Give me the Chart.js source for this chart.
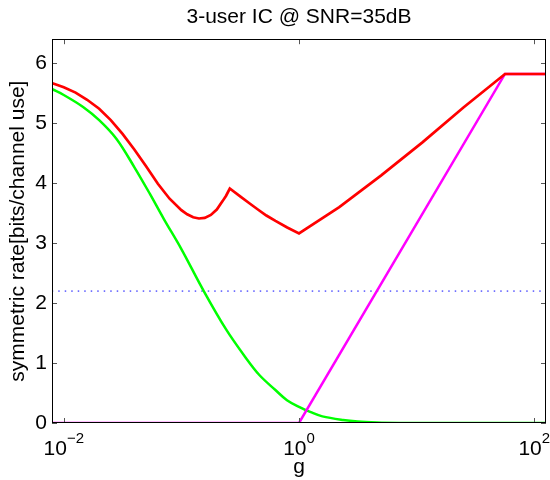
<!DOCTYPE html>
<html>
<head>
<meta charset="utf-8">
<script src="https://cdn.jsdelivr.net/npm/chart.js@4/dist/chart.umd.min.js"></script>
<style>
  body { margin: 0; background: #fff; }
  canvas { display: block; }
</style>
</head>
<body>
<canvas id="myChart" width="550" height="480"></canvas>
<script>
// axis ticks
const xTicks = [0.01, 1, 100];
const yTicks = [0, 1, 2, 3, 4, 5, 6];

// red curve (g, rate)
const gRed    = [0.0079, 0.01, 0.0126, 0.0158, 0.02, 0.0251, 0.0316, 0.0398, 0.0501, 0.0631, 0.0794, 0.1, 0.112, 0.126, 0.141, 0.158, 0.178, 0.2, 0.224, 0.24, 0.258, 0.316, 0.381, 0.447, 0.528, 0.631, 0.794, 1, 2.2, 5, 11.2, 25, 56.4, 126];
const rateRed = [5.67, 5.60, 5.51, 5.39, 5.24, 5.05, 4.82, 4.56, 4.28, 3.99, 3.74, 3.55, 3.48, 3.43, 3.41, 3.42, 3.47, 3.56, 3.70, 3.79, 3.91, 3.78, 3.66, 3.56, 3.46, 3.37, 3.26, 3.16, 3.60, 4.13, 4.68, 5.26, 5.82, 5.82];

// green curve
const gGreen    = [0.0079, 0.01, 0.0146, 0.02, 0.028, 0.04, 0.054, 0.071, 0.1, 0.153, 0.24, 0.355, 0.46, 0.63, 0.79, 1, 1.26, 1.58, 2.37, 3.16, 4.6, 7.1, 10, 126];
const rateGreen = [5.57, 5.47, 5.27, 5.05, 4.74, 4.26, 3.82, 3.40, 2.90, 2.22, 1.56, 1.08, 0.80, 0.55, 0.38, 0.27, 0.18, 0.11, 0.05, 0.025, 0.01, 0.002, 0, 0];

// magenta curve
const gMagenta    = [0.0079, 1, 56.4, 126];
const rateMagenta = [0, 0, 5.82, 5.82];

// blue dotted level and black zero line
const gFlat = [0.0079, 126];
const rateBlue = [2.2, 2.2];
const rateBlack = [0, 0];

const toPoints = (gs, vs) => gs.map((g, i) => ({ x: g, y: vs[i] }));

Chart.defaults.font.family = '"Liberation Sans", Arial, sans-serif';
Chart.defaults.color = '#000';

// MATLAB style box, inside tick marks and 10^n labels
const matlabAxes = {
    id: 'matlabAxes',
    afterDatasetsDraw(chart) {
        const { ctx, chartArea: a, scales: { x, y } } = chart;
        ctx.save();
        ctx.lineWidth = 1;
        ctx.strokeStyle = '#555';
        ctx.beginPath();
        xTicks.forEach(v => {
            const px = Math.round(x.getPixelForValue(v)) + 0.5;
            ctx.moveTo(px, a.bottom); ctx.lineTo(px, a.bottom - 5);
            ctx.moveTo(px, a.top); ctx.lineTo(px, a.top + 5);
        });
        yTicks.forEach(v => {
            const py = Math.round(y.getPixelForValue(v)) + 0.5;
            ctx.moveTo(a.left, py); ctx.lineTo(a.left + 5, py);
            ctx.moveTo(a.right, py); ctx.lineTo(a.right - 5, py);
        });
        ctx.stroke();

        ctx.strokeStyle = '#000';
        ctx.strokeRect(Math.round(a.left) + 0.5, Math.round(a.top) + 0.5,
            Math.round(a.right - a.left) - 1, Math.round(a.bottom - a.top) - 1);

        // x tick labels with superscript exponent
        ctx.fillStyle = '#000';
        ctx.textBaseline = 'alphabetic';
        ctx.textAlign = 'left';
        const baseFont = '21px "Liberation Sans", Arial, sans-serif';
        const supFont = '15px "Liberation Sans", Arial, sans-serif';
        xTicks.forEach(v => {
            const px = x.getPixelForValue(v);
            const e = Math.round(Math.log10(v));
            const sup = e < 0 ? '\u2212' + Math.abs(e) : String(e);
            ctx.font = baseFont;
            const wb = ctx.measureText('10').width;
            ctx.font = supFont;
            const ws = ctx.measureText(sup).width;
            const x0 = px - (wb + ws) / 2;
            ctx.font = baseFont;
            ctx.fillText('10', x0, a.bottom + 32);
            ctx.font = supFont;
            ctx.fillText(sup, x0 + wb, a.bottom + 20);
        });
        ctx.restore();
    }
};

const ctx = document.getElementById('myChart').getContext('2d');
new Chart(ctx, {
    type: 'line',
    data: {
        datasets: [
            { data: toPoints(gRed, rateRed), borderColor: '#ff0000', borderWidth: 2.7 },
            { data: toPoints(gMagenta, rateMagenta), borderColor: '#ff00ff', borderWidth: 2.5 },
            { data: toPoints(gGreen, rateGreen), borderColor: '#00ff00', borderWidth: 2.5, tension: 0.35 },
            { data: toPoints(gFlat, rateBlue), borderColor: '#0000ff', borderWidth: 1, borderDash: [1.5, 5] },
            { data: toPoints(gFlat, rateBlack), borderColor: '#000000', borderWidth: 2 }
        ]
    },
    options: {
        responsive: false,
        animation: false,
        devicePixelRatio: 1,
        elements: { point: { radius: 0 }, line: { tension: 0, fill: false } },
        layout: { padding: { left: 0, right: 4, top: 0, bottom: 0 } },
        plugins: {
            legend: { display: false },
            tooltip: { enabled: false },
            title: {
                display: true,
                text: '3-user IC @ SNR=35dB',
                fullSize: false,
                color: '#000',
                font: { size: 21, weight: 'normal' },
                padding: { top: 5, bottom: 9 }
            }
        },
        scales: {
            x: {
                type: 'logarithmic',
                min: Math.pow(10, -2.1),
                max: Math.pow(10, 2.1),
                afterBuildTicks: s => { s.ticks = xTicks.map(v => ({ value: v })); },
                afterFit: s => { s.height = 57; },
                ticks: { display: false },
                grid: { display: false, drawTicks: false },
                border: { display: false },
                title: { display: true, text: 'g', color: '#000', font: { size: 21 }, padding: { top: 0, bottom: 0 } }
            },
            y: {
                min: 0,
                max: 6.4,
                afterBuildTicks: s => { s.ticks = yTicks.map(v => ({ value: v })); },
                afterFit: s => { s.width = 52; },
                ticks: { font: { size: 21 }, color: '#000', padding: 5 },
                grid: { display: false, drawTicks: false },
                border: { display: false },
                title: {
                    display: true,
                    text: 'symmetric rate[bits/channel use]',
                    color: '#000',
                    font: { size: 21 },
                    padding: { top: 6, bottom: 0 }
                }
            }
        }
    },
    plugins: [matlabAxes]
});
</script>
</body>
</html>
